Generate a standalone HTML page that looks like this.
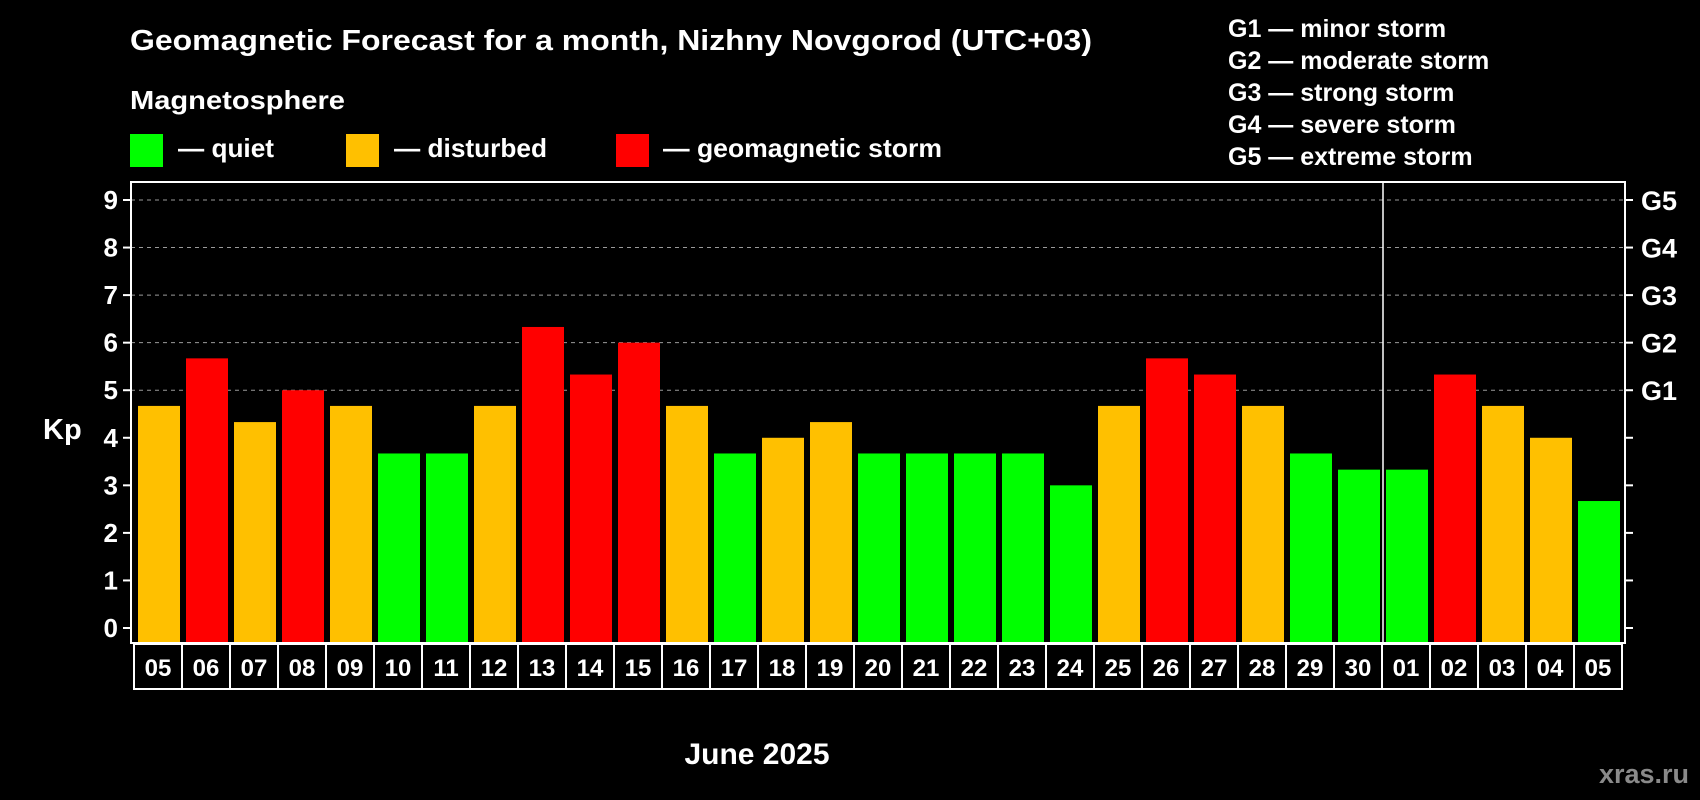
<!DOCTYPE html>
<html><head><meta charset="utf-8"><style>
html,body{margin:0;padding:0;background:#000;}
svg{display:block;font-family:"Liberation Sans",Arial,sans-serif;font-weight:bold;}
</style></head><body>
<svg id="chart" width="1700" height="800" viewBox="0 0 1700 800" xmlns="http://www.w3.org/2000/svg">
<rect x="0" y="0" width="1700" height="800" fill="#000"/>
<text x="130" y="50" fill="#fff" font-size="29" textLength="962" lengthAdjust="spacingAndGlyphs">Geomagnetic Forecast for a month, Nizhny Novgorod (UTC+03)</text>
<text x="130" y="109" fill="#fff" font-size="26" textLength="215" lengthAdjust="spacingAndGlyphs">Magnetosphere</text>
<g>
<rect x="130" y="134" width="33" height="33" fill="#00ff00"/>
<text x="178" y="157" fill="#fff" font-size="26" textLength="96" lengthAdjust="spacingAndGlyphs">— quiet</text></g>
<g>
<rect x="346" y="134" width="33" height="33" fill="#ffc000"/>
<text x="394" y="157" fill="#fff" font-size="26" textLength="153" lengthAdjust="spacingAndGlyphs">— disturbed</text></g>
<g>
<rect x="616" y="134" width="33" height="33" fill="#ff0000"/>
<text x="663" y="157" fill="#fff" font-size="26" textLength="279" lengthAdjust="spacingAndGlyphs">— geomagnetic storm</text></g>
<g fill="#fff" font-size="25">
<text x="1228" y="37">G1 — minor storm</text>
<text x="1228" y="69">G2 — moderate storm</text>
<text x="1228" y="101">G3 — strong storm</text>
<text x="1228" y="133">G4 — severe storm</text>
<text x="1228" y="165">G5 — extreme storm</text>
</g>
<g id="grid"></g>
<g id="bars"></g>
<g id="axes"></g>
<text x="43" y="439" fill="#fff" font-size="29">Kp</text>
<text x="757" y="764" fill="#fff" font-size="30" text-anchor="middle">June 2025</text>
<text x="1689" y="783" fill="#8a8a8a" font-size="27" text-anchor="end">xras.ru</text>
</svg>
<script>
const days = ["05","06","07","08","09","10","11","12","13","14","15","16","17","18","19","20","21","22","23","24","25","26","27","28","29","30","01","02","03","04","05"];
const kp = [4.67,5.67,4.33,5,4.67,3.67,3.67,4.67,6.33,5.33,6,4.67,3.67,4,4.33,3.67,3.67,3.67,3.67,3,4.67,5.67,5.33,4.67,3.67,3.33,3.33,5.33,4.67,4,2.67];
const yTicks = [0,1,2,3,4,5,6,7,8,9];
const gLevels = ["G1","G2","G3","G4","G5"];
const gValues = [5,6,7,8,9];
const monthBreakIndex = 26;

const NS = "http://www.w3.org/2000/svg";
const pL = 131, pR = 1625, pT = 182, pB = 643;
const yZero = 628, yNine = 200;
const barStart = 138, pitch = 48, barW = 42;
function yScale(v){ return yZero - (yZero - yNine) * v / 9; }
function xScale(i){ return barStart + i * pitch; }
function mk(tag, attrs, parent){
  const e = document.createElementNS(NS, tag);
  for (const k in attrs) e.setAttribute(k, attrs[k]);
  parent.appendChild(e); return e;
}
function colorFor(v){ return v >= 5 ? "#ff0000" : (v >= 4 ? "#ffc000" : "#00ff00"); }

const grid = document.getElementById("grid");
gValues.forEach(v => {
  const l = mk("line", {x1:pL, x2:pR, y1:yScale(v), y2:yScale(v), stroke:"#9a9a9a", "stroke-width":1, "stroke-dasharray":"4,4"}, grid);
  
  
});

const bars = document.getElementById("bars");
kp.forEach((v, i) => {
  const r = mk("rect", {x:xScale(i), y:yScale(v), width:barW, height:pB - yScale(v), fill:colorFor(v)}, bars);
  
  
});

const axes = document.getElementById("axes");
const frame = mk("rect", {x:pL, y:pT, width:pR-pL, height:pB-pT, fill:"none", stroke:"#fff", "stroke-width":2}, axes);


const sepX = xScale(monthBreakIndex) - (pitch - barW) / 2;
const sep = mk("line", {x1:sepX, x2:sepX, y1:pT, y2:pB, stroke:"#fff", "stroke-width":1.5}, axes);


yTicks.forEach(v => {
  const y = yScale(v);
  mk("line", {x1:pL-8, x2:pL, y1:y, y2:y, stroke:"#fff", "stroke-width":2}, axes);
  mk("line", {x1:pR, x2:pR+8, y1:y, y2:y, stroke:"#fff", "stroke-width":2}, axes);
  const t = mk("text", {x:pL-13, y:y+9, fill:"#fff", "font-size":26, "text-anchor":"end"}, axes);
  t.textContent = v;
  
  
});
gLevels.forEach((g, i) => {
  const t = mk("text", {x:1641, y:yScale(gValues[i])+10, fill:"#fff", "font-size":27}, axes);
  t.textContent = g;
  
  
});
days.forEach((d, i) => {
  const bx = xScale(i) - 4;
  const b = mk("rect", {x:bx, y:644, width:pitch, height:45, fill:"#000", stroke:"#fff", "stroke-width":2}, axes);
  
  
  const t = mk("text", {x:bx + pitch/2, y:676, fill:"#fff", "font-size":24, "text-anchor":"middle"}, axes);
  t.textContent = d;
  
  
});
</script>
</body></html>
